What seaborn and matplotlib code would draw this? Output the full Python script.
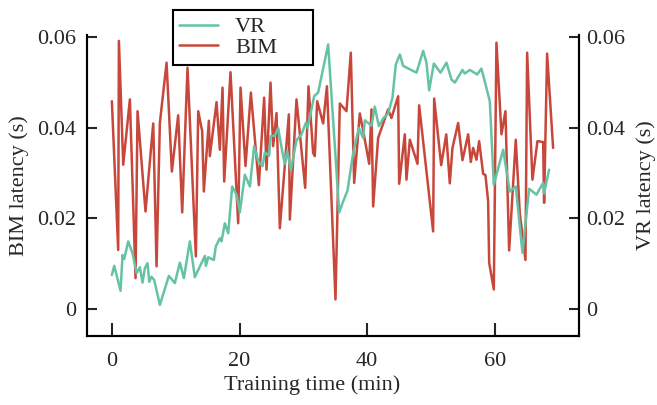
import numpy as np
import pandas as pd
import matplotlib
matplotlib.use("Agg")
import matplotlib.pyplot as plt
import seaborn as sns

# BIM latency (left axis)
bim_time = [0.0, 0.99, 1.10, 1.78, 2.82, 3.71, 4.02, 5.27, 6.48, 7.00, 7.52, 8.57, 9.40,
            10.39, 11.02, 11.85, 13.16, 13.53, 14.15, 14.41, 15.20, 15.35, 16.40, 16.92,
            17.34, 17.60, 18.59, 19.79, 20.16, 20.94, 21.78, 23.03, 23.86, 24.23, 24.86,
            25.27, 25.80, 26.32, 27.73, 27.89, 28.93, 30.29, 30.81, 31.54, 31.80, 32.17,
            33.11, 33.70, 35.04, 35.72, 36.76, 37.44, 37.97, 38.85, 39.48, 40.32, 40.68,
            40.94, 41.72, 43.29, 43.81, 44.86, 45.02, 45.90, 46.16, 46.69, 47.89, 48.15,
            50.34, 50.50, 51.60, 52.40, 52.95, 53.37, 54.26, 54.94, 55.83, 56.24, 56.61,
            57.13, 57.55, 58.18, 58.54, 58.96, 59.12, 59.85, 60.26, 61.05, 61.67, 62.25,
            63.29, 63.92, 64.81, 65.07, 65.90, 66.69, 67.58, 67.73, 68.20, 69.14]
bim_latency = [0.0458, 0.0130, 0.0591, 0.0318, 0.0462, 0.0068, 0.0436, 0.0215, 0.0409,
               0.0094, 0.0410, 0.0543, 0.0303, 0.0427, 0.0213, 0.0532, 0.0116, 0.0436,
               0.0392, 0.0259, 0.0415, 0.0337, 0.0456, 0.0351, 0.0488, 0.0281, 0.0522,
               0.0189, 0.0488, 0.0315, 0.0477, 0.0273, 0.0466, 0.0307, 0.0499, 0.0359,
               0.0432, 0.0178, 0.0429, 0.0197, 0.0462, 0.0267, 0.0491, 0.0344, 0.0337,
               0.0458, 0.0409, 0.0491, 0.0021, 0.0453, 0.0436, 0.0565, 0.0278, 0.0431,
               0.0385, 0.0320, 0.0440, 0.0226, 0.0377, 0.0440, 0.0421, 0.0469, 0.0276,
               0.0385, 0.0285, 0.0373, 0.0320, 0.0449, 0.0171, 0.0464, 0.0317, 0.0385,
               0.0277, 0.0355, 0.0410, 0.0328, 0.0385, 0.0324, 0.0355, 0.0329, 0.0370,
               0.0298, 0.0295, 0.0237, 0.0102, 0.0043, 0.0587, 0.0385, 0.0436, 0.0129,
               0.0373, 0.0211, 0.0108, 0.0565, 0.0285, 0.0370, 0.0368, 0.0234, 0.0563,
               0.0355]

# VR latency (right axis)
vr_time = [0.0, 0.37, 1.36, 1.67, 1.93, 2.56, 3.24, 3.87, 4.39, 4.80, 5.17, 5.59, 5.85,
           6.21, 6.63, 7.52, 8.93, 9.87, 10.65, 11.28, 12.22, 13.00, 14.57, 14.73, 15.09,
           15.98, 16.29, 16.92, 17.18, 17.70, 18.23, 18.85, 19.53, 20.05, 20.84, 21.62,
           22.30, 22.92, 23.61, 23.97, 24.65, 24.86, 25.54, 26.06, 26.69, 27.10, 27.47,
           28.04, 28.93, 29.71, 30.39, 30.65, 31.70, 32.32, 33.89, 35.62, 36.24, 36.92,
           37.81, 38.70, 39.37, 39.64, 40.68, 41.20, 41.83, 42.51, 43.29, 43.97, 44.49,
           45.12, 45.64, 47.73, 48.78, 49.30, 49.71, 50.45, 51.49, 52.43, 53.21, 53.74,
           54.94, 55.30, 56.09, 57.24, 57.91, 59.22, 59.85, 61.31, 62.35, 63.29, 64.34,
           65.38, 66.53, 67.58, 67.73, 68.51]
vr_latency = [0.0075, 0.0095, 0.0040, 0.0119, 0.0110, 0.0149, 0.0123, 0.0079, 0.0092,
              0.0058, 0.0090, 0.0101, 0.0060, 0.0071, 0.0064, 0.0009, 0.0073, 0.0057,
              0.0102, 0.0068, 0.0149, 0.0070, 0.0117, 0.0095, 0.0114, 0.0108, 0.0138,
              0.0156, 0.0149, 0.0189, 0.0167, 0.0270, 0.0252, 0.0213, 0.0296, 0.0270,
              0.0359, 0.0326, 0.0315, 0.0345, 0.0338, 0.0381, 0.0382, 0.0399, 0.0348,
              0.0320, 0.0348, 0.0306, 0.0372, 0.0385, 0.0410, 0.0399, 0.0469, 0.0477,
              0.0583, 0.0213, 0.0237, 0.0261, 0.0344, 0.0399, 0.0377, 0.0416, 0.0404,
              0.0446, 0.0403, 0.0420, 0.0431, 0.0466, 0.0539, 0.0561, 0.0536, 0.0521,
              0.0569, 0.0543, 0.0482, 0.0541, 0.0521, 0.0543, 0.0506, 0.0499, 0.0527,
              0.0519, 0.0527, 0.0517, 0.0530, 0.0458, 0.0274, 0.0351, 0.0259, 0.0270,
              0.0124, 0.0265, 0.0252, 0.0278, 0.0255, 0.0307]

x_ticks = [0, 20, 40, 60]
y_ticks = [0, 0.02, 0.04, 0.06]
y_tick_labels = ["0", "0.02", "0.04", "0.06"]

bim_df = pd.DataFrame({"time": bim_time, "latency": bim_latency})
vr_df = pd.DataFrame({"time": vr_time, "latency": vr_latency})

sns.set_style("ticks")
plt.rcParams["font.family"] = ["Liberation Serif", "DejaVu Serif"]
plt.rcParams["font.size"] = 16

vr_color = "#66c2a5"
bim_color = "#c8473b"

fig = plt.figure(figsize=(6.57, 4.05), dpi=100)
ax = fig.add_axes([0.1324, 0.171, 0.7489, 0.7426])
ax2 = ax.twinx()

sns.lineplot(data=bim_df, x="time", y="latency", ax=ax, color=bim_color,
             linewidth=1.8, estimator=None, label="BIM", legend=False)
sns.lineplot(data=vr_df, x="time", y="latency", ax=ax2, color=vr_color,
             linewidth=1.8, estimator=None, label="VR", legend=False)

for a in (ax, ax2):
    a.set_xlim(-3.9, 73.2)
    a.set_ylim(-0.0059, 0.0604)
    a.set_yticks(y_ticks)
    a.set_yticklabels(y_tick_labels)
    a.spines["top"].set_visible(False)
    for s in ("left", "right", "bottom"):
        a.spines[s].set_linewidth(1.5)
        a.spines[s].set_color("black")

ax.set_xticks(x_ticks)
ax.tick_params(axis="x", direction="in", length=9.5, width=1.5, pad=12, labelsize=16)
ax.tick_params(axis="y", direction="in", length=7.5, width=1.5, pad=8, labelsize=16)
ax2.tick_params(axis="y", direction="in", length=7.5, width=1.5, pad=5, labelsize=16)

ax.set_xlabel("Training time (min)", fontsize=16, labelpad=3, x=0.457)
ax.set_ylabel("BIM latency (s)", fontsize=16, labelpad=6)
ax2.set_ylabel("VR latency (s)", fontsize=16, labelpad=8)

h1, l1 = ax.get_legend_handles_labels()
h2, l2 = ax2.get_legend_handles_labels()
leg = fig.legend(h2 + h1, l2 + l1, loc="upper left",
                 bbox_to_anchor=(0.263, 0.849, 0.213, 0.126), mode="expand",
                 frameon=True, fancybox=False, edgecolor="black", framealpha=1,
                 fontsize=16, handlelength=1.75, handletextpad=0.75,
                 labelspacing=0.0, borderpad=0.3, borderaxespad=0)
leg.get_frame().set_linewidth(1.5)

plt.savefig("out.png", dpi=100)
